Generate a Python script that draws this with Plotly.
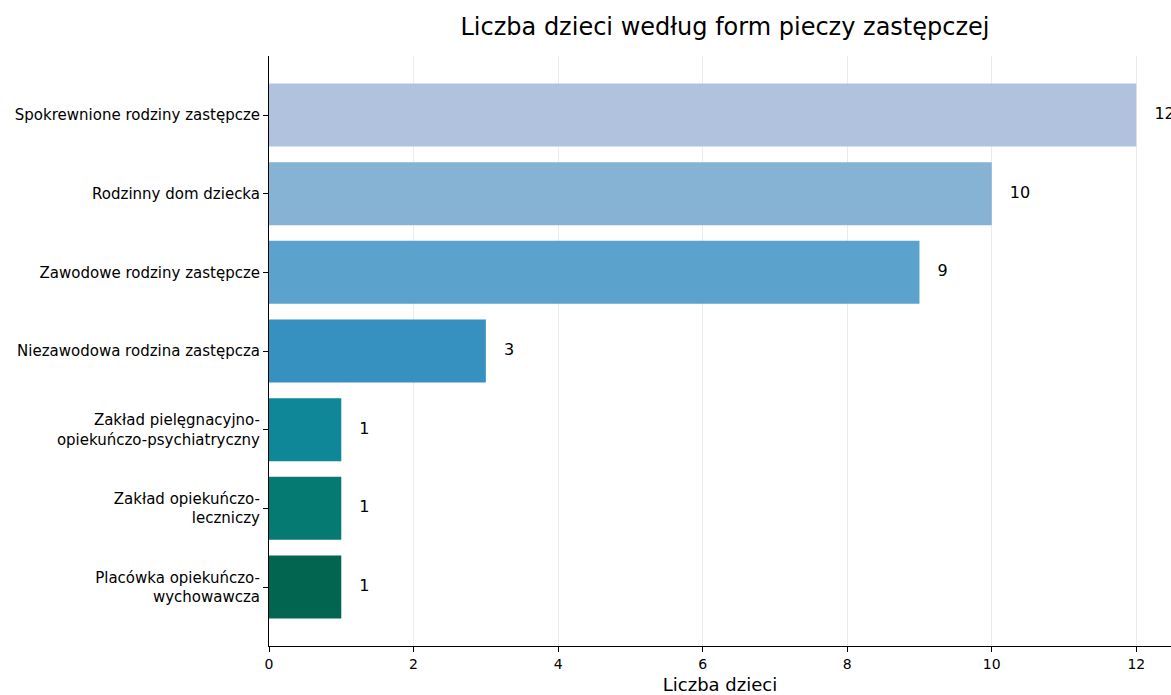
import plotly.graph_objects as go

# data (top to bottom)
categories = [
    "Spokrewnione rodziny zastępcze",
    "Rodzinny dom dziecka",
    "Zawodowe rodziny zastępcze",
    "Niezawodowa rodzina zastępcza",
    "Zakład pielęgnacyjno-<br>opiekuńczo-psychiatryczny",
    "Zakład opiekuńczo-<br>leczniczy",
    "Placówka opiekuńczo-<br>wychowawcza",
]
counts = [12, 10, 9, 3, 1, 1, 1]
bar_colors = ["#b0c2de", "#86b2d4", "#5ba3cd", "#3690c0", "#0f8799", "#047a73", "#02654f"]
x_ticks = [0, 2, 4, 6, 8, 10, 12]

FONT = "DejaVu Sans, sans-serif"
W, H = 1171, 695

# plotly draws categories bottom-up, so reverse to keep the reference order
cats_plot = categories[::-1]
counts_plot = counts[::-1]
colors_plot = bar_colors[::-1]

fig = go.Figure()
fig.add_trace(go.Bar(
    x=counts_plot,
    y=cats_plot,
    orientation='h',
    marker_color=colors_plot,
    marker_line_width=0,
    width=0.8,
    showlegend=False,
    hoverinfo='skip',
))

# value labels just right of each bar
fig.add_trace(go.Scatter(
    x=[v + 0.25 for v in counts_plot],
    y=cats_plot,
    mode='text',
    text=[str(v) for v in counts_plot],
    textposition='middle right',
    textfont={'family': FONT, 'size': 16, 'color': '#000000'},
    cliponaxis=False,
    showlegend=False,
    hoverinfo='skip',
))

fig.update_layout(
    width=W,
    height=H,
    paper_bgcolor='#ffffff',
    plot_bgcolor='#ffffff',
    font={'family': FONT, 'color': '#000000'},
    title={
        'text': "Liczba dzieci według form pieczy zastępczej",
        'font': {'size': 24, 'color': '#000000', 'family': FONT},
        'x': 725 / W,
        'xanchor': 'center',
        'xref': 'container',
        'yref': 'container',
        'y': 1 - 27 / H,
        'yanchor': 'middle',
    },
    margin={'l': 269, 'r': 0, 't': 56, 'b': 49, 'autoexpand': False},
    bargap=0.2,
    xaxis={
        'range': [0, 12.48],
        'tickvals': x_ticks,
        'ticks': 'outside',
        'ticklen': 5,
        'tickcolor': '#000000',
        'tickfont': {'size': 14, 'family': FONT},
        'automargin': False,
        'showgrid': True,
        'gridcolor': '#ebebeb',
        'gridwidth': 1,
        'zeroline': False,
        'showline': True,
        'linecolor': '#000000',
        'linewidth': 1,
        'title': {'text': "Liczba dzieci", 'font': {'size': 18, 'family': FONT}, 'standoff': 7},
    },
    yaxis={
        'type': 'category',
        'range': [-0.75, 6.75],
        'ticks': 'outside',
        'ticklen': 5,
        'tickcolor': '#000000',
        'tickfont': {'size': 15, 'family': FONT},
        'automargin': False,
        'showgrid': False,
        'zeroline': False,
        'showline': True,
        'linecolor': '#000000',
        'linewidth': 1,
    },
)

# drop the default page margin so the figure fills the window exactly
fig.write_html(
    "out.html",
    config={'displayModeBar': False},
    post_script="document.body.style.margin='0';",
)
